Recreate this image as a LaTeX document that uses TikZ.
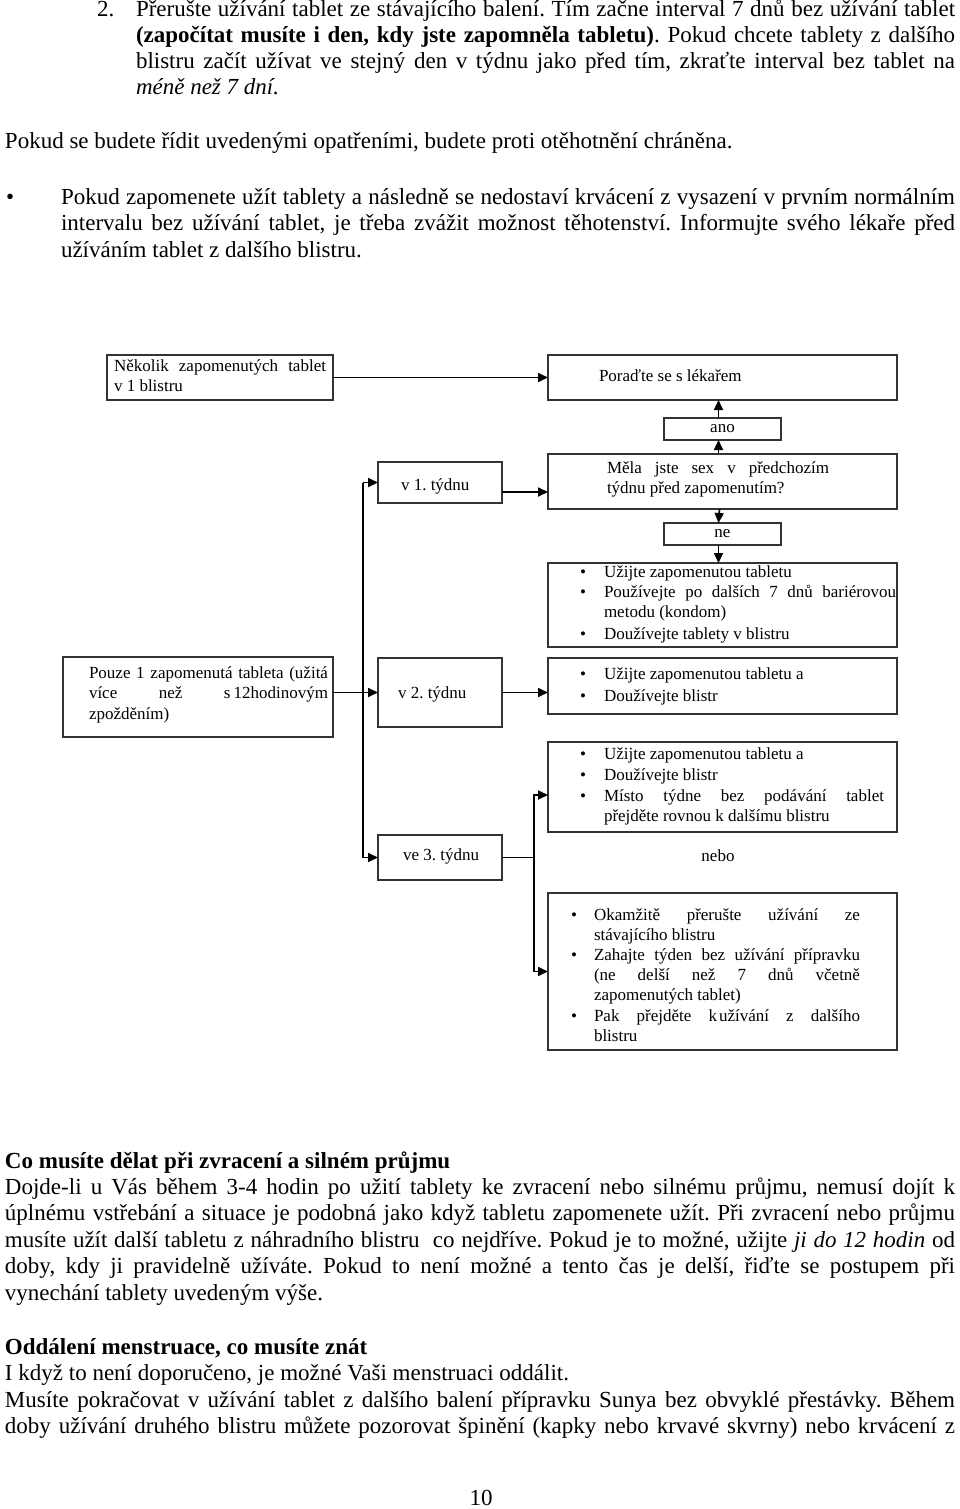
\documentclass[tikz,border=0pt]{standalone}
\usepackage{fontspec}
\setmainfont{Liberation Serif}
\usetikzlibrary{arrows.meta}
\newcommand\myBody{\fontsize{23}{26}\selectfont}
\newcommand\myFlow{\fontsize{17}{20}\selectfont}
\frenchspacing
\begin{document}
\begin{tikzpicture}[x=1pt,y=-1pt,
  box/.style={draw=black!80, line width=1.4pt, inner sep=0pt, outer sep=0pt, anchor=north west, font=\myFlow},
  txt/.style={anchor=base west, inner sep=0pt, outer sep=0pt, font=\myBody},
  ftxt/.style={anchor=base west, inner sep=0pt, outer sep=0pt, font=\myFlow},
  conn/.style={draw=black, line width=1.7pt},
  arr/.style={conn, -{Triangle[length=10pt,width=9pt]}}]
\useasboundingbox (0,0) rectangle (960,1509);

% ---------- top text ----------
\node[txt] (t1n) at (97,17) {2.};
\node[txt] (t1) at (136,17) {\makebox[819pt][s]{Přerušte užívání tablet ze stávajícího balení. Tím začne interval 7 dnů bez užívání tablet}};
\node[txt] (t2) at (136,43) {\makebox[819pt][s]{\textbf{(započítat musíte i den, kdy jste zapomněla tabletu)}. Pokud chcete tablety z dalšího}};
\node[txt] (t3) at (136,69) {\makebox[819pt][s]{blistru začít užívat ve stejný den v týdnu jako před tím, zkraťte interval bez tablet na}};
\node[txt] (t4) at (136,95) {\textit{méně než 7 dní.}};
\node[txt] (t5) at (5,149) {Pokud se budete řídit uvedenými opatřeními, budete proti otěhotnění chráněna.};
\node[txt] (b0) at (6,204) {•};
\node[txt] (t6) at (61,204) {\makebox[894pt][s]{Pokud zapomenete užít tablety a následně se nedostaví krvácení z vysazení v prvním normálním}};
\node[txt] (t7) at (61,230) {\makebox[894pt][s]{intervalu bez užívání tablet, je třeba zvážit možnost těhotenství. Informujte svého lékaře před}};
\node[txt] (t8) at (61,257) {užíváním tablet z dalšího blistru.};

% ---------- boxes ----------
\node[box, minimum width=226pt, minimum height=45pt] (A) at (107,355) {};
\node[box, minimum width=349pt, minimum height=45pt] (B) at (548,355) {};
\node[box, minimum width=117pt, minimum height=22pt] (ano) at (664,418) {ano};
\node[box, minimum width=349pt, minimum height=55pt] (C) at (548,454) {};
\node[box, minimum width=124pt, minimum height=41pt] (v1) at (378,462) {};
\node[box, minimum width=117pt, minimum height=22pt] (ne) at (664,523) {ne};
\node[box, minimum width=349pt, minimum height=84pt] (D) at (548,563) {};
\node[box, minimum width=270pt, minimum height=80pt] (E) at (63,657) {};
\node[box, minimum width=124pt, minimum height=69pt] (v2) at (378,658) {};
\node[box, minimum width=349pt, minimum height=56pt] (F) at (548,658) {};
\node[box, minimum width=349pt, minimum height=90pt] (G) at (548,742) {};
\node[box, minimum width=124pt, minimum height=45pt] (ve3) at (378,835) {};
\node[box, minimum width=349pt, minimum height=157pt] (H) at (548,893) {};

% ---------- box texts ----------
\node[ftxt] at (114,371) {\makebox[212pt][s]{Několik zapomenutých tablet}};
\node[ftxt] at (114,391) {v 1 blistru};
\node[ftxt] at (599,381) {Poraďte se s lékařem};
\node[ftxt] at (607,473) {\makebox[222pt][s]{Měla jste sex v předchozím}};
\node[ftxt] at (607,493) {týdnu před zapomenutím?};
\node[ftxt] at (401,490) {v 1. týdnu};

\node[ftxt] at (580,577) {•};
\node[ftxt] at (580,597) {•};
\node[ftxt] at (580,639) {•};
\node[ftxt] at (604,577) {Užijte zapomenutou tabletu};
\node[ftxt] at (604,597) {\makebox[292pt][s]{Používejte po dalších 7 dnů bariérovou}};
\node[ftxt] at (604,617) {metodu (kondom)};
\node[ftxt] at (604,639) {Doužívejte tablety v blistru};

\node[ftxt] at (89,678) {\makebox[239pt][s]{Pouze 1 zapomenutá tableta (užitá}};
\node[ftxt] at (89,698) {\makebox[239pt][s]{více než s\kern3pt 12hodinovým}};
\node[ftxt] at (89,719) {zpožděním)};
\node[ftxt] at (398,698) {v 2. týdnu};

\node[ftxt] at (580,679) {•};
\node[ftxt] at (580,701) {•};
\node[ftxt] at (604,679) {Užijte zapomenutou tabletu a};
\node[ftxt] at (604,701) {Doužívejte blistr};

\node[ftxt] at (580,759) {•};
\node[ftxt] at (580,780) {•};
\node[ftxt] at (580,801) {•};
\node[ftxt] at (604,759) {Užijte zapomenutou tabletu a};
\node[ftxt] at (604,780) {Doužívejte blistr};
\node[ftxt] at (604,801) {\makebox[280pt][s]{Místo týdne bez podávání tablet}};
\node[ftxt] at (604,821) {přejděte rovnou k dalšímu blistru};

\node[ftxt] at (403,860) {ve 3. týdnu};
\node[inner sep=0pt, font=\myFlow] (nebo) at (718,856) {nebo};

\node[ftxt] at (571,920) {•};
\node[ftxt] at (571,960) {•};
\node[ftxt] at (571,1021) {•};
\node[ftxt] at (594,920) {\makebox[266pt][s]{Okamžitě přerušte užívání ze}};
\node[ftxt] at (594,940) {stávajícího blistru};
\node[ftxt] at (594,960) {\makebox[266pt][s]{Zahajte týden bez užívání přípravku}};
\node[ftxt] at (594,980) {\makebox[266pt][s]{(ne delší než 7 dnů včetně}};
\node[ftxt] at (594,1000) {zapomenutých tablet)};
\node[ftxt] at (594,1021) {\makebox[266pt][s]{Pak přejděte k\kern2pt užívání z dalšího}};
\node[ftxt] at (594,1041) {blistru};

% ---------- connectors ----------
\coordinate (trunk) at (363,0);
\coordinate (fork) at (534,0);
\coordinate (j1) at (0,492);
\coordinate (j2) at (0,795);
\draw[arr] (A.east) -- (B.west);
\draw[arr] ([xshift=-4pt]ano.north) -- ([xshift=-4pt]B.south);
\draw[arr] ([xshift=-4pt]C.north) -- ([xshift=-4pt]ano.south);
\draw[arr] ([xshift=-3pt]C.south) -- ([xshift=-4pt]ne.north);
\draw[arr] ([xshift=-4pt]ne.south) -- ([xshift=-4pt]D.north);
\draw[arr] (v1.east |- j1) -- (C.west |- j1);
\draw[arr] (trunk |- v1.west) -- (v1.west);
\draw[arr] (trunk |- v1.west) -- (trunk |- ve3.west) -- (ve3.west);
\draw[arr] (E.east |- v2.west) -- (v2.west);
\draw[arr] (v2.east) -- (F.west |- v2.east);
\draw[conn] (ve3.east) -- (fork |- ve3.east);
\draw[arr] (fork |- H.west) -- (fork |- j2) -- (G.west |- j2);
\draw[arr] (fork |- H.west) -- (H.west);

% ---------- bottom text ----------
\node[txt] at (5,1168) {\textbf{Co musíte dělat při zvracení a silném průjmu}};
\node[txt] at (5,1194) {\makebox[950pt][s]{Dojde-li u Vás během 3-4 hodin po užití tablety ke zvracení nebo silnému průjmu, nemusí dojít k}};
\node[txt] at (5,1220) {\makebox[950pt][s]{úplnému vstřebání a situace je podobná jako když tabletu zapomenete užít. Při zvracení nebo průjmu}};
\node[txt] at (5,1247) {\makebox[950pt][s]{musíte užít další tabletu z náhradního blistru\ \ co nejdříve. Pokud je to možné, užijte \textit{ji do 12 hodin} od}};
\node[txt] at (5,1273) {\makebox[950pt][s]{doby, kdy ji pravidelně užíváte. Pokud to není možné a tento čas je delší, řiďte se postupem při}};
\node[txt] at (5,1300) {vynechání tablety uvedeným výše.};
\node[txt] at (5,1354) {\textbf{Oddálení menstruace, co musíte znát}};
\node[txt] at (5,1380) {I když to není doporučeno, je možné Vaši menstruaci oddálit.};
\node[txt] at (5,1407) {\makebox[950pt][s]{Musíte pokračovat v užívání tablet z dalšího balení přípravku Sunya bez obvyklé přestávky. Během}};
\node[txt] at (5,1433) {\makebox[950pt][s]{doby užívání druhého blistru můžete pozorovat špinění (kapky nebo krvavé skvrny) nebo krvácení z}};
\node[anchor=base, inner sep=0pt, font=\myBody] (pg) at (481,1505) {10};
\end{tikzpicture}
\end{document}
